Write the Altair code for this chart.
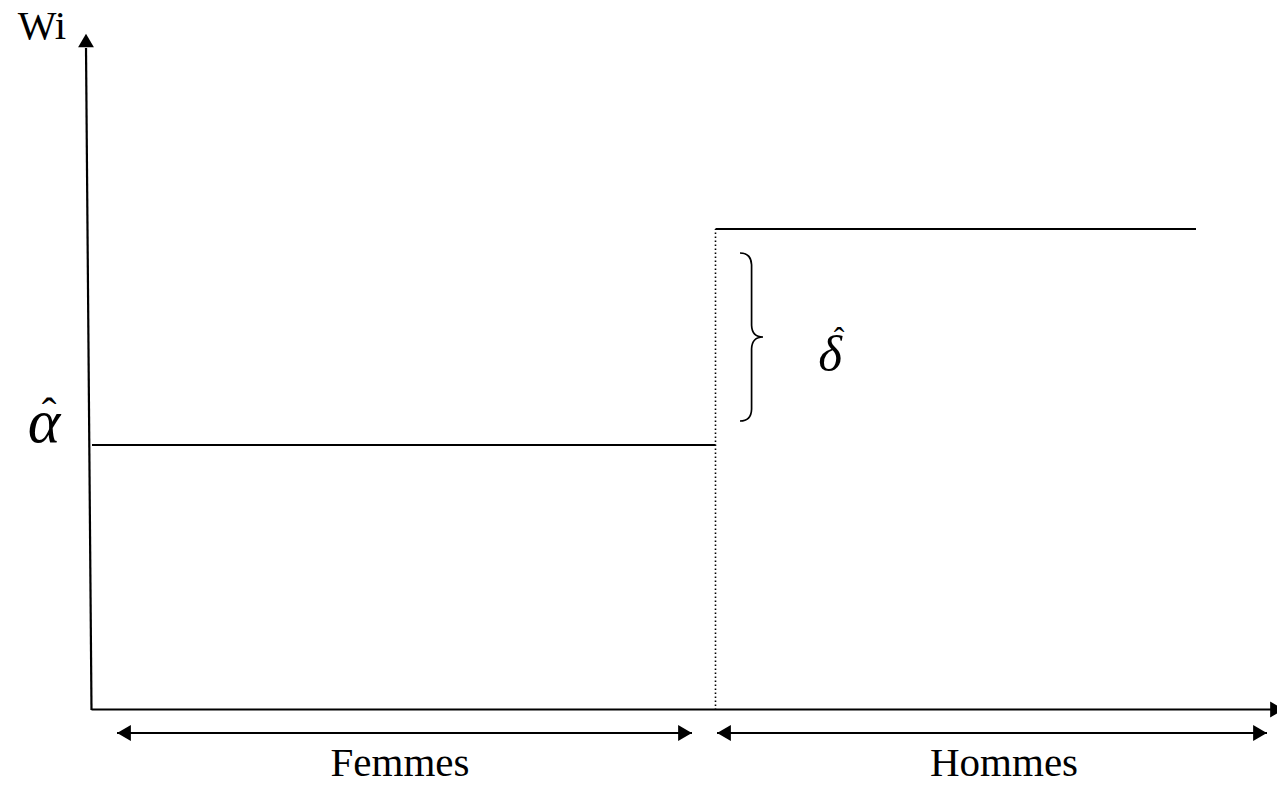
import altair as alt
import pandas as pd

# ---- conceptual values of the diagram (abstract units) ----
alpha_hat = 2.65          # level of women's wage
delta_hat = 2.16          # gap for men
group_names = ["Femmes", "Hommes"]
group_start = [0.0, 6.235]
group_end = [6.235, 11.04]
group_level = [alpha_hat, alpha_hat + delta_hat]

# double arrows under the horizontal axis (extent of each group)
span_start = [0.25, 6.25]
span_end = [6.0, 11.75]
span_level = -0.23
label_x = [3.08, 9.12]
label_level = -0.655

# axes
y_axis_x = [-0.005, -0.06]
y_axis_y = [0.0, 6.62]
x_axis_x = [-0.005, 11.85]
x_axis_y = [0.005, 0.005]
y_arrow_tip = 6.695
x_arrow_tip = 11.85

# annotation labels
wi_pos = [-0.50, 6.71]
alpha_pos = [-0.48, 2.68]
alpha_hat_pos = [-0.43, 2.82]
delta_pos = [7.38, 3.39]
delta_hat_pos = [7.47, 3.61]
brace_x = 6.60

# ---------------------------------------------------------
XS = alt.Scale(domain=[-0.84, 11.85], nice=False, zero=False)
YS = alt.Scale(domain=[-0.66, 7.02], nice=False, zero=False)

def X(f="x"):
    return alt.X(f"{f}:Q", scale=XS, axis=None)

def Y(f="y"):
    return alt.Y(f"{f}:Q", scale=YS, axis=None)

# solid segments
segs = []
segs.append(dict(x=y_axis_x[0], y=y_axis_y[0], x2=y_axis_x[1], y2=y_axis_y[1], w=2.2))
segs.append(dict(x=x_axis_x[0], y=x_axis_y[0], x2=x_axis_x[1], y2=x_axis_y[1], w=2.2))
for s, e, lv in zip(group_start, group_end, group_level):
    segs.append(dict(x=s, y=lv, x2=e, y2=lv, w=1.9))
for s, e in zip(span_start, span_end):
    segs.append(dict(x=s, y=span_level, x2=e, y2=span_level, w=2.2))
seg_df = pd.DataFrame(segs)

solid = alt.Chart(seg_df).mark_rule(color="black").encode(
    x=X(), y=Y(), x2="x2:Q", y2="y2:Q",
    strokeWidth=alt.StrokeWidth("w:Q", scale=None),
)

# dotted separator between groups
dot_df = pd.DataFrame([dict(x=group_end[0], y=0.0, x2=group_end[0], y2=group_level[1])])
dotted = alt.Chart(dot_df).mark_rule(color="black", strokeWidth=1.6, strokeDash=[1.6, 2.4]).encode(
    x=X(), y=Y(), x2="x2:Q", y2="y2:Q"
)

# arrowheads
heads = [dict(x=y_axis_x[1], y=y_arrow_tip, shape="triangle-up"),
         dict(x=x_arrow_tip, y=x_axis_y[0], shape="triangle-right")]
for s, e in zip(span_start, span_end):
    heads.append(dict(x=s + 0.07, y=span_level, shape="triangle-left"))
    heads.append(dict(x=e - 0.07, y=span_level, shape="triangle-right"))
head_df = pd.DataFrame(heads)
arrowheads = alt.Chart(head_df).mark_point(filled=True, color="black", opacity=1, size=250).encode(
    x=X(), y=Y(), shape=alt.Shape("shape:N", scale=None)
)

# brace showing delta
BRACE = ("M -0.143 -1 Q -0.01 -1 -0.005 -0.86 L -0.005 -0.14 Q 0 0 0.131 0 "
         "Q 0 0 -0.005 0.14 L -0.005 0.86 Q -0.01 1 -0.143 1")
brace_df = pd.DataFrame([dict(x=brace_x, y=alpha_hat + delta_hat / 2)])
brace = alt.Chart(brace_df).mark_point(
    shape=BRACE, filled=False, stroke="black", strokeWidth=1.7, size=28224, opacity=1
).encode(x=X(), y=Y())

FONT = "Liberation Serif"

def text_layer(df, size, italic=False):
    return alt.Chart(df).mark_text(
        font=FONT, fontSize=size, fontStyle="italic" if italic else "normal",
        align="center", baseline="alphabetic", color="black"
    ).encode(x=X(), y=Y(), text="t:N")

groups_df = pd.DataFrame(dict(x=label_x, y=[label_level] * 2, t=group_names))
wi_df = pd.DataFrame([dict(x=wi_pos[0], y=wi_pos[1], t="Wi")])
alpha_df = pd.DataFrame([dict(x=alpha_pos[0], y=alpha_pos[1], t="α")])
alpha_hat_df = pd.DataFrame([dict(x=alpha_hat_pos[0], y=alpha_hat_pos[1], t="ˆ")])
delta_df = pd.DataFrame([dict(x=delta_pos[0], y=delta_pos[1], t="δ")])
delta_hat_df = pd.DataFrame([dict(x=delta_hat_pos[0], y=delta_hat_pos[1], t="ˆ")])

chart = alt.layer(
    dotted, solid, arrowheads, brace,
    text_layer(groups_df, 41),
    text_layer(wi_df, 41),
    text_layer(alpha_df, 62, italic=True),
    text_layer(alpha_hat_df, 44),
    text_layer(delta_df, 51, italic=True),
    text_layer(delta_hat_df, 32),
).properties(
    width=1269, height=768, padding=0,
    autosize=alt.AutoSizeParams(type="none"),
    background="white",
).configure_view(stroke=None)

chart.save("out.html", embed_options={"renderer": "svg", "actions": False})
